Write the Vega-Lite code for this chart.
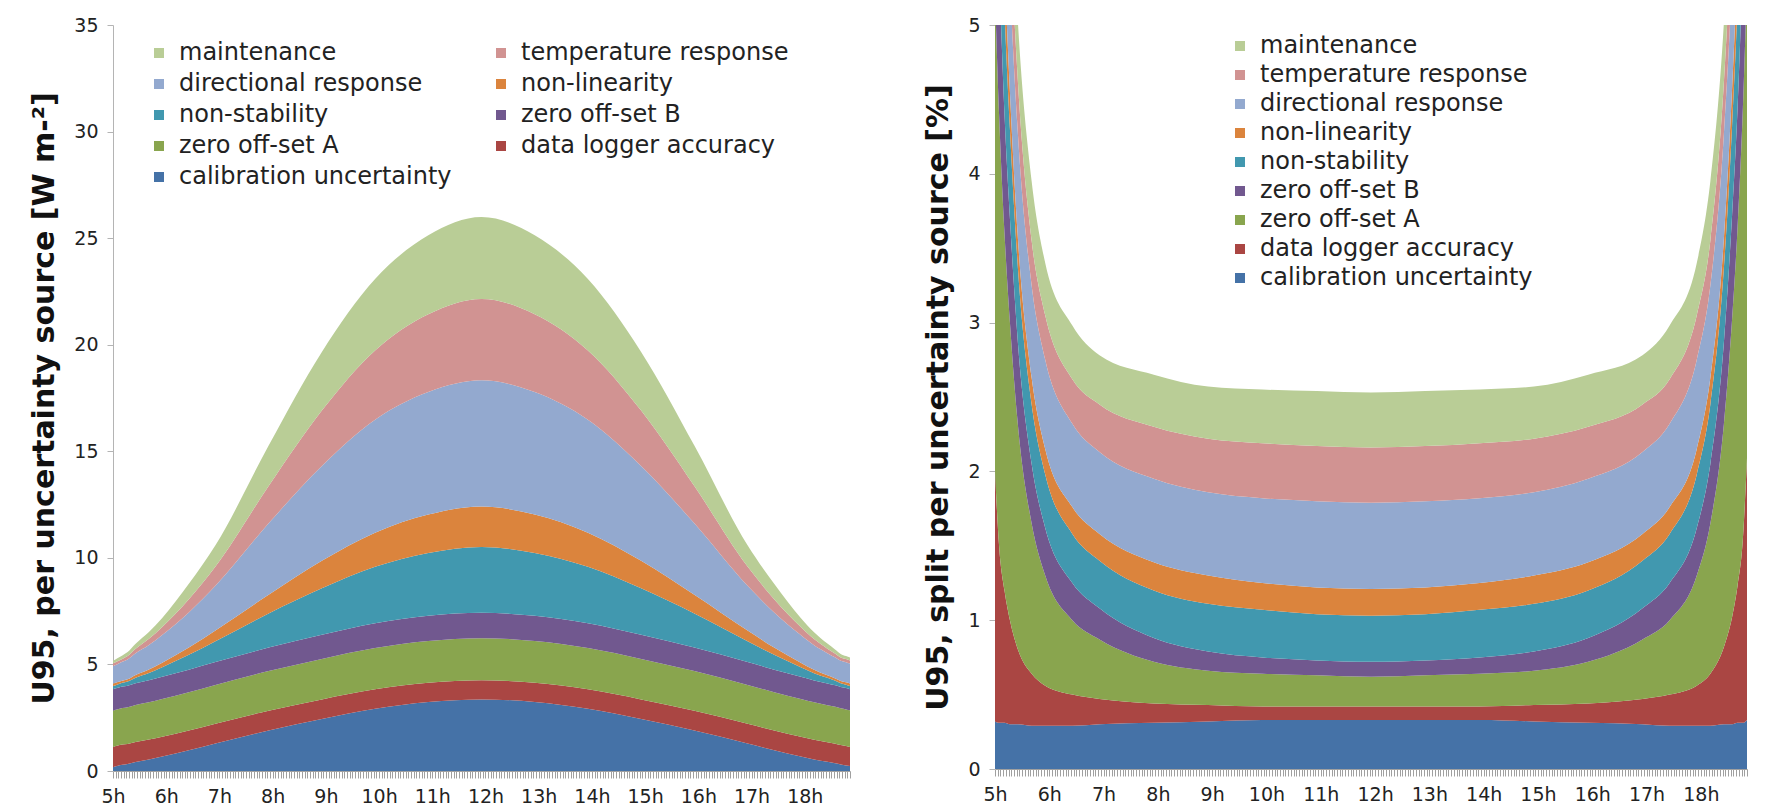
{
"$schema": "https://vega.github.io/schema/vega-lite/v6.json",
"background": "white",
"padding": {"left": 29, "top": 16, "right": 0, "bottom": 0},
"bounds": "flush",
"spacing": 145,
"config": {
  "font": "DejaVu Sans",
  "view": {"stroke": null},
  "axis": {"labelFont": "DejaVu Sans", "labelFontSize": 19, "labelColor": "#222222", "titleFont": "DejaVu Sans", "titleFontWeight": "bold", "titleFontSize": 30, "titleColor": "#111111", "grid": false, "domainColor": "#b4b4b4", "tickColor": "#b4b4b4"},
  "legend": {"labelFont": "DejaVu Sans", "labelFontSize": 24, "labelColor": "#222222", "symbolType": "square", "symbolSize": 100, "symbolStrokeWidth": 0, "labelOffset": 8, "padding": 0, "titlePadding": 0, "labelLimit": 500}
},
"datasets": {
"sources": [
{"source":"calibration uncertainty","rank":1},{"source":"data logger accuracy","rank":2},{"source":"zero off-set A","rank":3},{"source":"zero off-set B","rank":4},{"source":"non-stability","rank":5},{"source":"non-linearity","rank":6},{"source":"directional response","rank":7},{"source":"temperature response","rank":8},{"source":"maintenance","rank":9}
],
"wm2": [
{"hour":5,"source":"calibration uncertainty","value":0.18},{"hour":5,"source":"data logger accuracy","value":0.95},{"hour":5,"source":"zero off-set A","value":1.70},{"hour":5,"source":"zero off-set B","value":1.01},{"hour":5,"source":"non-stability","value":0.15},{"hour":5,"source":"non-linearity","value":0.11},{"hour":5,"source":"directional response","value":0.82},{"hour":5,"source":"temperature response","value":0.13},{"hour":5,"source":"maintenance","value":0.12},
{"hour":5.075,"source":"calibration uncertainty","value":0.23},{"hour":5.075,"source":"data logger accuracy","value":0.95},{"hour":5.075,"source":"zero off-set A","value":1.70},{"hour":5.075,"source":"zero off-set B","value":1.01},{"hour":5.075,"source":"non-stability","value":0.16},{"hour":5.075,"source":"non-linearity","value":0.11},{"hour":5.075,"source":"directional response","value":0.84},{"hour":5.075,"source":"temperature response","value":0.14},{"hour":5.075,"source":"maintenance","value":0.14},
{"hour":5.175,"source":"calibration uncertainty","value":0.29},{"hour":5.175,"source":"data logger accuracy","value":0.95},{"hour":5.175,"source":"zero off-set A","value":1.71},{"hour":5.175,"source":"zero off-set B","value":1.01},{"hour":5.175,"source":"non-stability","value":0.18},{"hour":5.175,"source":"non-linearity","value":0.10},{"hour":5.175,"source":"directional response","value":0.88},{"hour":5.175,"source":"temperature response","value":0.14},{"hour":5.175,"source":"maintenance","value":0.16},
{"hour":5.275,"source":"calibration uncertainty","value":0.33},{"hour":5.275,"source":"data logger accuracy","value":0.94},{"hour":5.275,"source":"zero off-set A","value":1.72},{"hour":5.275,"source":"zero off-set B","value":1.01},{"hour":5.275,"source":"non-stability","value":0.20},{"hour":5.275,"source":"non-linearity","value":0.10},{"hour":5.275,"source":"directional response","value":0.93},{"hour":5.275,"source":"temperature response","value":0.16},{"hour":5.275,"source":"maintenance","value":0.19},
{"hour":5.425,"source":"calibration uncertainty","value":0.42},{"hour":5.425,"source":"data logger accuracy","value":0.94},{"hour":5.425,"source":"zero off-set A","value":1.74},{"hour":5.425,"source":"zero off-set B","value":1.02},{"hour":5.425,"source":"non-stability","value":0.26},{"hour":5.425,"source":"non-linearity","value":0.12},{"hour":5.425,"source":"directional response","value":1.02},{"hour":5.425,"source":"temperature response","value":0.21},{"hour":5.425,"source":"maintenance","value":0.24},
{"hour":5.675,"source":"calibration uncertainty","value":0.54},{"hour":5.675,"source":"data logger accuracy","value":0.94},{"hour":5.675,"source":"zero off-set A","value":1.75},{"hour":5.675,"source":"zero off-set B","value":1.03},{"hour":5.675,"source":"non-stability","value":0.34},{"hour":5.675,"source":"non-linearity","value":0.16},{"hour":5.675,"source":"directional response","value":1.15},{"hour":5.675,"source":"temperature response","value":0.29},{"hour":5.675,"source":"maintenance","value":0.32},
{"hour":5.925,"source":"calibration uncertainty","value":0.68},{"hour":5.925,"source":"data logger accuracy","value":0.93},{"hour":5.925,"source":"zero off-set A","value":1.77},{"hour":5.925,"source":"zero off-set B","value":1.04},{"hour":5.925,"source":"non-stability","value":0.45},{"hour":5.925,"source":"non-linearity","value":0.21},{"hour":5.925,"source":"directional response","value":1.30},{"hour":5.925,"source":"temperature response","value":0.38},{"hour":5.925,"source":"maintenance","value":0.42},
{"hour":6.425,"source":"calibration uncertainty","value":0.97},{"hour":6.425,"source":"data logger accuracy","value":0.93},{"hour":6.425,"source":"zero off-set A","value":1.80},{"hour":6.425,"source":"zero off-set B","value":1.05},{"hour":6.425,"source":"non-stability","value":0.70},{"hour":6.425,"source":"non-linearity","value":0.34},{"hour":6.425,"source":"directional response","value":1.65},{"hour":6.425,"source":"temperature response","value":0.62},{"hour":6.425,"source":"maintenance","value":0.72},
{"hour":6.925,"source":"calibration uncertainty","value":1.29},{"hour":6.925,"source":"data logger accuracy","value":0.93},{"hour":6.925,"source":"zero off-set A","value":1.82},{"hour":6.925,"source":"zero off-set B","value":1.07},{"hour":6.925,"source":"non-stability","value":0.98},{"hour":6.925,"source":"non-linearity","value":0.50},{"hour":6.925,"source":"directional response","value":2.10},{"hour":6.925,"source":"temperature response","value":0.90},{"hour":6.925,"source":"maintenance","value":1.00},
{"hour":7.925,"source":"calibration uncertainty","value":1.90},{"hour":7.925,"source":"data logger accuracy","value":0.93},{"hour":7.925,"source":"zero off-set A","value":1.86},{"hour":7.925,"source":"zero off-set B","value":1.10},{"hour":7.925,"source":"non-stability","value":1.60},{"hour":7.925,"source":"non-linearity","value":0.88},{"hour":7.925,"source":"directional response","value":3.35},{"hour":7.925,"source":"temperature response","value":1.75},{"hour":7.925,"source":"maintenance","value":1.90},
{"hour":8.925,"source":"calibration uncertainty","value":2.44},{"hour":8.925,"source":"data logger accuracy","value":0.92},{"hour":8.925,"source":"zero off-set A","value":1.90},{"hour":8.925,"source":"zero off-set B","value":1.13},{"hour":8.925,"source":"non-stability","value":2.18},{"hour":8.925,"source":"non-linearity","value":1.29},{"hour":8.925,"source":"directional response","value":4.45},{"hour":8.925,"source":"temperature response","value":2.60},{"hour":8.925,"source":"maintenance","value":2.75},
{"hour":9.925,"source":"calibration uncertainty","value":2.92},{"hour":9.925,"source":"data logger accuracy","value":0.91},{"hour":9.925,"source":"zero off-set A","value":1.94},{"hour":9.925,"source":"zero off-set B","value":1.16},{"hour":9.925,"source":"non-stability","value":2.65},{"hour":9.925,"source":"non-linearity","value":1.60},{"hour":9.925,"source":"directional response","value":5.30},{"hour":9.925,"source":"temperature response","value":3.25},{"hour":9.925,"source":"maintenance","value":3.35},
{"hour":10.925,"source":"calibration uncertainty","value":3.24},{"hour":10.925,"source":"data logger accuracy","value":0.90},{"hour":10.925,"source":"zero off-set A","value":1.96},{"hour":10.925,"source":"zero off-set B","value":1.18},{"hour":10.925,"source":"non-stability","value":2.95},{"hour":10.925,"source":"non-linearity","value":1.80},{"hour":10.925,"source":"directional response","value":5.75},{"hour":10.925,"source":"temperature response","value":3.65},{"hour":10.925,"source":"maintenance","value":3.70},
{"hour":11.925,"source":"calibration uncertainty","value":3.36},{"hour":11.925,"source":"data logger accuracy","value":0.90},{"hour":11.925,"source":"zero off-set A","value":1.97},{"hour":11.925,"source":"zero off-set B","value":1.19},{"hour":11.925,"source":"non-stability","value":3.09},{"hour":11.925,"source":"non-linearity","value":1.90},{"hour":11.925,"source":"directional response","value":5.92},{"hour":11.925,"source":"temperature response","value":3.82},{"hour":11.925,"source":"maintenance","value":3.84},
{"hour":12.925,"source":"calibration uncertainty","value":3.24},{"hour":12.925,"source":"data logger accuracy","value":0.90},{"hour":12.925,"source":"zero off-set A","value":1.96},{"hour":12.925,"source":"zero off-set B","value":1.18},{"hour":12.925,"source":"non-stability","value":2.95},{"hour":12.925,"source":"non-linearity","value":1.80},{"hour":12.925,"source":"directional response","value":5.75},{"hour":12.925,"source":"temperature response","value":3.65},{"hour":12.925,"source":"maintenance","value":3.70},
{"hour":13.925,"source":"calibration uncertainty","value":2.92},{"hour":13.925,"source":"data logger accuracy","value":0.91},{"hour":13.925,"source":"zero off-set A","value":1.94},{"hour":13.925,"source":"zero off-set B","value":1.16},{"hour":13.925,"source":"non-stability","value":2.65},{"hour":13.925,"source":"non-linearity","value":1.60},{"hour":13.925,"source":"directional response","value":5.30},{"hour":13.925,"source":"temperature response","value":3.25},{"hour":13.925,"source":"maintenance","value":3.35},
{"hour":14.925,"source":"calibration uncertainty","value":2.44},{"hour":14.925,"source":"data logger accuracy","value":0.92},{"hour":14.925,"source":"zero off-set A","value":1.90},{"hour":14.925,"source":"zero off-set B","value":1.13},{"hour":14.925,"source":"non-stability","value":2.18},{"hour":14.925,"source":"non-linearity","value":1.29},{"hour":14.925,"source":"directional response","value":4.45},{"hour":14.925,"source":"temperature response","value":2.60},{"hour":14.925,"source":"maintenance","value":2.75},
{"hour":15.925,"source":"calibration uncertainty","value":1.90},{"hour":15.925,"source":"data logger accuracy","value":0.93},{"hour":15.925,"source":"zero off-set A","value":1.86},{"hour":15.925,"source":"zero off-set B","value":1.10},{"hour":15.925,"source":"non-stability","value":1.60},{"hour":15.925,"source":"non-linearity","value":0.88},{"hour":15.925,"source":"directional response","value":3.35},{"hour":15.925,"source":"temperature response","value":1.75},{"hour":15.925,"source":"maintenance","value":1.90},
{"hour":16.925,"source":"calibration uncertainty","value":1.29},{"hour":16.925,"source":"data logger accuracy","value":0.93},{"hour":16.925,"source":"zero off-set A","value":1.82},{"hour":16.925,"source":"zero off-set B","value":1.07},{"hour":16.925,"source":"non-stability","value":0.98},{"hour":16.925,"source":"non-linearity","value":0.50},{"hour":16.925,"source":"directional response","value":2.10},{"hour":16.925,"source":"temperature response","value":0.90},{"hour":16.925,"source":"maintenance","value":1.00},
{"hour":17.425,"source":"calibration uncertainty","value":0.97},{"hour":17.425,"source":"data logger accuracy","value":0.93},{"hour":17.425,"source":"zero off-set A","value":1.80},{"hour":17.425,"source":"zero off-set B","value":1.05},{"hour":17.425,"source":"non-stability","value":0.70},{"hour":17.425,"source":"non-linearity","value":0.34},{"hour":17.425,"source":"directional response","value":1.65},{"hour":17.425,"source":"temperature response","value":0.62},{"hour":17.425,"source":"maintenance","value":0.72},
{"hour":17.925,"source":"calibration uncertainty","value":0.68},{"hour":17.925,"source":"data logger accuracy","value":0.93},{"hour":17.925,"source":"zero off-set A","value":1.77},{"hour":17.925,"source":"zero off-set B","value":1.04},{"hour":17.925,"source":"non-stability","value":0.45},{"hour":17.925,"source":"non-linearity","value":0.21},{"hour":17.925,"source":"directional response","value":1.30},{"hour":17.925,"source":"temperature response","value":0.38},{"hour":17.925,"source":"maintenance","value":0.42},
{"hour":18.175,"source":"calibration uncertainty","value":0.54},{"hour":18.175,"source":"data logger accuracy","value":0.93},{"hour":18.175,"source":"zero off-set A","value":1.75},{"hour":18.175,"source":"zero off-set B","value":1.03},{"hour":18.175,"source":"non-stability","value":0.34},{"hour":18.175,"source":"non-linearity","value":0.16},{"hour":18.175,"source":"directional response","value":1.15},{"hour":18.175,"source":"temperature response","value":0.29},{"hour":18.175,"source":"maintenance","value":0.32},
{"hour":18.425,"source":"calibration uncertainty","value":0.43},{"hour":18.425,"source":"data logger accuracy","value":0.92},{"hour":18.425,"source":"zero off-set A","value":1.74},{"hour":18.425,"source":"zero off-set B","value":1.02},{"hour":18.425,"source":"non-stability","value":0.26},{"hour":18.425,"source":"non-linearity","value":0.12},{"hour":18.425,"source":"directional response","value":1.04},{"hour":18.425,"source":"temperature response","value":0.21},{"hour":18.425,"source":"maintenance","value":0.24},
{"hour":18.575,"source":"calibration uncertainty","value":0.36},{"hour":18.575,"source":"data logger accuracy","value":0.92},{"hour":18.575,"source":"zero off-set A","value":1.73},{"hour":18.575,"source":"zero off-set B","value":1.01},{"hour":18.575,"source":"non-stability","value":0.21},{"hour":18.575,"source":"non-linearity","value":0.11},{"hour":18.575,"source":"directional response","value":0.98},{"hour":18.575,"source":"temperature response","value":0.18},{"hour":18.575,"source":"maintenance","value":0.19},
{"hour":18.675,"source":"calibration uncertainty","value":0.31},{"hour":18.675,"source":"data logger accuracy","value":0.91},{"hour":18.675,"source":"zero off-set A","value":1.72},{"hour":18.675,"source":"zero off-set B","value":1.00},{"hour":18.675,"source":"non-stability","value":0.18},{"hour":18.675,"source":"non-linearity","value":0.10},{"hour":18.675,"source":"directional response","value":0.95},{"hour":18.675,"source":"temperature response","value":0.16},{"hour":18.675,"source":"maintenance","value":0.16},
{"hour":18.775,"source":"calibration uncertainty","value":0.26},{"hour":18.775,"source":"data logger accuracy","value":0.91},{"hour":18.775,"source":"zero off-set A","value":1.72},{"hour":18.775,"source":"zero off-set B","value":1.00},{"hour":18.775,"source":"non-stability","value":0.16},{"hour":18.775,"source":"non-linearity","value":0.11},{"hour":18.775,"source":"directional response","value":0.94},{"hour":18.775,"source":"temperature response","value":0.15},{"hour":18.775,"source":"maintenance","value":0.14},
{"hour":18.85,"source":"calibration uncertainty","value":0.23},{"hour":18.85,"source":"data logger accuracy","value":0.90},{"hour":18.85,"source":"zero off-set A","value":1.72},{"hour":18.85,"source":"zero off-set B","value":0.99},{"hour":18.85,"source":"non-stability","value":0.15},{"hour":18.85,"source":"non-linearity","value":0.11},{"hour":18.85,"source":"directional response","value":0.94},{"hour":18.85,"source":"temperature response","value":0.15},{"hour":18.85,"source":"maintenance","value":0.13}
],
"pct": [
{"hour":5,"source":"calibration uncertainty","value":0.32},{"hour":5,"source":"data logger accuracy","value":1.68},{"hour":5,"source":"zero off-set A","value":3.20},{"hour":5,"source":"zero off-set B","value":1.10},{"hour":5,"source":"non-stability","value":0.90},{"hour":5,"source":"non-linearity","value":0.40},{"hour":5,"source":"directional response","value":1.20},{"hour":5,"source":"temperature response","value":0.60},{"hour":5,"source":"maintenance","value":0.60},
{"hour":5.075,"source":"calibration uncertainty","value":0.31},{"hour":5.075,"source":"data logger accuracy","value":1.19},{"hour":5.075,"source":"zero off-set A","value":2.90},{"hour":5.075,"source":"zero off-set B","value":1.00},{"hour":5.075,"source":"non-stability","value":0.80},{"hour":5.075,"source":"non-linearity","value":0.30},{"hour":5.075,"source":"directional response","value":1.10},{"hour":5.075,"source":"temperature response","value":0.50},{"hour":5.075,"source":"maintenance","value":0.60},
{"hour":5.175,"source":"calibration uncertainty","value":0.31},{"hour":5.175,"source":"data logger accuracy","value":0.89},{"hour":5.175,"source":"zero off-set A","value":2.40},{"hour":5.175,"source":"zero off-set B","value":0.80},{"hour":5.175,"source":"non-stability","value":0.70},{"hour":5.175,"source":"non-linearity","value":0.30},{"hour":5.175,"source":"directional response","value":0.90},{"hour":5.175,"source":"temperature response","value":0.40},{"hour":5.175,"source":"maintenance","value":0.50},
{"hour":5.275,"source":"calibration uncertainty","value":0.30},{"hour":5.275,"source":"data logger accuracy","value":0.70},{"hour":5.275,"source":"zero off-set A","value":2.00},{"hour":5.275,"source":"zero off-set B","value":0.70},{"hour":5.275,"source":"non-stability","value":0.60},{"hour":5.275,"source":"non-linearity","value":0.25},{"hour":5.275,"source":"directional response","value":0.75},{"hour":5.275,"source":"temperature response","value":0.40},{"hour":5.275,"source":"maintenance","value":0.40},
{"hour":5.425,"source":"calibration uncertainty","value":0.30},{"hour":5.425,"source":"data logger accuracy","value":0.50},{"hour":5.425,"source":"zero off-set A","value":1.50},{"hour":5.425,"source":"zero off-set B","value":0.55},{"hour":5.425,"source":"non-stability","value":0.50},{"hour":5.425,"source":"non-linearity","value":0.20},{"hour":5.425,"source":"directional response","value":0.70},{"hour":5.425,"source":"temperature response","value":0.35},{"hour":5.425,"source":"maintenance","value":0.40},
{"hour":5.675,"source":"calibration uncertainty","value":0.29},{"hour":5.675,"source":"data logger accuracy","value":0.35},{"hour":5.675,"source":"zero off-set A","value":1.01},{"hour":5.675,"source":"zero off-set B","value":0.40},{"hour":5.675,"source":"non-stability","value":0.40},{"hour":5.675,"source":"non-linearity","value":0.18},{"hour":5.675,"source":"directional response","value":0.62},{"hour":5.675,"source":"temperature response","value":0.30},{"hour":5.675,"source":"maintenance","value":0.40},
{"hour":5.925,"source":"calibration uncertainty","value":0.29},{"hour":5.925,"source":"data logger accuracy","value":0.27},{"hour":5.925,"source":"zero off-set A","value":0.74},{"hour":5.925,"source":"zero off-set B","value":0.32},{"hour":5.925,"source":"non-stability","value":0.36},{"hour":5.925,"source":"non-linearity","value":0.17},{"hour":5.925,"source":"directional response","value":0.60},{"hour":5.925,"source":"temperature response","value":0.30},{"hour":5.925,"source":"maintenance","value":0.35},
{"hour":6.425,"source":"calibration uncertainty","value":0.29},{"hour":6.425,"source":"data logger accuracy","value":0.21},{"hour":6.425,"source":"zero off-set A","value":0.50},{"hour":6.425,"source":"zero off-set B","value":0.25},{"hour":6.425,"source":"non-stability","value":0.33},{"hour":6.425,"source":"non-linearity","value":0.18},{"hour":6.425,"source":"directional response","value":0.56},{"hour":6.425,"source":"temperature response","value":0.30},{"hour":6.425,"source":"maintenance","value":0.36},
{"hour":6.925,"source":"calibration uncertainty","value":0.30},{"hour":6.925,"source":"data logger accuracy","value":0.17},{"hour":6.925,"source":"zero off-set A","value":0.40},{"hour":6.925,"source":"zero off-set B","value":0.21},{"hour":6.925,"source":"non-stability","value":0.32},{"hour":6.925,"source":"non-linearity","value":0.18},{"hour":6.925,"source":"directional response","value":0.55},{"hour":6.925,"source":"temperature response","value":0.32},{"hour":6.925,"source":"maintenance","value":0.33},
{"hour":7.925,"source":"calibration uncertainty","value":0.31},{"hour":7.925,"source":"data logger accuracy","value":0.13},{"hour":7.925,"source":"zero off-set A","value":0.28},{"hour":7.925,"source":"zero off-set B","value":0.16},{"hour":7.925,"source":"non-stability","value":0.32},{"hour":7.925,"source":"non-linearity","value":0.19},{"hour":7.925,"source":"directional response","value":0.56},{"hour":7.925,"source":"temperature response","value":0.35},{"hour":7.925,"source":"maintenance","value":0.35},
{"hour":8.925,"source":"calibration uncertainty","value":0.32},{"hour":8.925,"source":"data logger accuracy","value":0.11},{"hour":8.925,"source":"zero off-set A","value":0.23},{"hour":8.925,"source":"zero off-set B","value":0.13},{"hour":8.925,"source":"non-stability","value":0.32},{"hour":8.925,"source":"non-linearity","value":0.19},{"hour":8.925,"source":"directional response","value":0.56},{"hour":8.925,"source":"temperature response","value":0.36},{"hour":8.925,"source":"maintenance","value":0.35},
{"hour":9.925,"source":"calibration uncertainty","value":0.33},{"hour":9.925,"source":"data logger accuracy","value":0.09},{"hour":9.925,"source":"zero off-set A","value":0.22},{"hour":9.925,"source":"zero off-set B","value":0.11},{"hour":9.925,"source":"non-stability","value":0.32},{"hour":9.925,"source":"non-linearity","value":0.18},{"hour":9.925,"source":"directional response","value":0.57},{"hour":9.925,"source":"temperature response","value":0.37},{"hour":9.925,"source":"maintenance","value":0.36},
{"hour":10.925,"source":"calibration uncertainty","value":0.33},{"hour":10.925,"source":"data logger accuracy","value":0.09},{"hour":10.925,"source":"zero off-set A","value":0.21},{"hour":10.925,"source":"zero off-set B","value":0.10},{"hour":10.925,"source":"non-stability","value":0.31},{"hour":10.925,"source":"non-linearity","value":0.18},{"hour":10.925,"source":"directional response","value":0.58},{"hour":10.925,"source":"temperature response","value":0.37},{"hour":10.925,"source":"maintenance","value":0.37},
{"hour":11.925,"source":"calibration uncertainty","value":0.33},{"hour":11.925,"source":"data logger accuracy","value":0.09},{"hour":11.925,"source":"zero off-set A","value":0.20},{"hour":11.925,"source":"zero off-set B","value":0.10},{"hour":11.925,"source":"non-stability","value":0.31},{"hour":11.925,"source":"non-linearity","value":0.18},{"hour":11.925,"source":"directional response","value":0.58},{"hour":11.925,"source":"temperature response","value":0.37},{"hour":11.925,"source":"maintenance","value":0.37},
{"hour":12.925,"source":"calibration uncertainty","value":0.33},{"hour":12.925,"source":"data logger accuracy","value":0.09},{"hour":12.925,"source":"zero off-set A","value":0.21},{"hour":12.925,"source":"zero off-set B","value":0.10},{"hour":12.925,"source":"non-stability","value":0.31},{"hour":12.925,"source":"non-linearity","value":0.18},{"hour":12.925,"source":"directional response","value":0.58},{"hour":12.925,"source":"temperature response","value":0.37},{"hour":12.925,"source":"maintenance","value":0.37},
{"hour":13.925,"source":"calibration uncertainty","value":0.33},{"hour":13.925,"source":"data logger accuracy","value":0.09},{"hour":13.925,"source":"zero off-set A","value":0.22},{"hour":13.925,"source":"zero off-set B","value":0.11},{"hour":13.925,"source":"non-stability","value":0.32},{"hour":13.925,"source":"non-linearity","value":0.18},{"hour":13.925,"source":"directional response","value":0.57},{"hour":13.925,"source":"temperature response","value":0.37},{"hour":13.925,"source":"maintenance","value":0.36},
{"hour":14.925,"source":"calibration uncertainty","value":0.32},{"hour":14.925,"source":"data logger accuracy","value":0.11},{"hour":14.925,"source":"zero off-set A","value":0.23},{"hour":14.925,"source":"zero off-set B","value":0.13},{"hour":14.925,"source":"non-stability","value":0.32},{"hour":14.925,"source":"non-linearity","value":0.19},{"hour":14.925,"source":"directional response","value":0.56},{"hour":14.925,"source":"temperature response","value":0.36},{"hour":14.925,"source":"maintenance","value":0.35},
{"hour":15.925,"source":"calibration uncertainty","value":0.31},{"hour":15.925,"source":"data logger accuracy","value":0.13},{"hour":15.925,"source":"zero off-set A","value":0.28},{"hour":15.925,"source":"zero off-set B","value":0.16},{"hour":15.925,"source":"non-stability","value":0.32},{"hour":15.925,"source":"non-linearity","value":0.19},{"hour":15.925,"source":"directional response","value":0.56},{"hour":15.925,"source":"temperature response","value":0.35},{"hour":15.925,"source":"maintenance","value":0.35},
{"hour":16.925,"source":"calibration uncertainty","value":0.30},{"hour":16.925,"source":"data logger accuracy","value":0.17},{"hour":16.925,"source":"zero off-set A","value":0.40},{"hour":16.925,"source":"zero off-set B","value":0.21},{"hour":16.925,"source":"non-stability","value":0.32},{"hour":16.925,"source":"non-linearity","value":0.18},{"hour":16.925,"source":"directional response","value":0.55},{"hour":16.925,"source":"temperature response","value":0.32},{"hour":16.925,"source":"maintenance","value":0.33},
{"hour":17.425,"source":"calibration uncertainty","value":0.29},{"hour":17.425,"source":"data logger accuracy","value":0.21},{"hour":17.425,"source":"zero off-set A","value":0.50},{"hour":17.425,"source":"zero off-set B","value":0.25},{"hour":17.425,"source":"non-stability","value":0.33},{"hour":17.425,"source":"non-linearity","value":0.18},{"hour":17.425,"source":"directional response","value":0.56},{"hour":17.425,"source":"temperature response","value":0.30},{"hour":17.425,"source":"maintenance","value":0.36},
{"hour":17.925,"source":"calibration uncertainty","value":0.29},{"hour":17.925,"source":"data logger accuracy","value":0.27},{"hour":17.925,"source":"zero off-set A","value":0.74},{"hour":17.925,"source":"zero off-set B","value":0.32},{"hour":17.925,"source":"non-stability","value":0.36},{"hour":17.925,"source":"non-linearity","value":0.17},{"hour":17.925,"source":"directional response","value":0.60},{"hour":17.925,"source":"temperature response","value":0.30},{"hour":17.925,"source":"maintenance","value":0.35},
{"hour":18.175,"source":"calibration uncertainty","value":0.29},{"hour":18.175,"source":"data logger accuracy","value":0.35},{"hour":18.175,"source":"zero off-set A","value":1.01},{"hour":18.175,"source":"zero off-set B","value":0.40},{"hour":18.175,"source":"non-stability","value":0.40},{"hour":18.175,"source":"non-linearity","value":0.18},{"hour":18.175,"source":"directional response","value":0.62},{"hour":18.175,"source":"temperature response","value":0.30},{"hour":18.175,"source":"maintenance","value":0.40},
{"hour":18.425,"source":"calibration uncertainty","value":0.30},{"hour":18.425,"source":"data logger accuracy","value":0.52},{"hour":18.425,"source":"zero off-set A","value":1.50},{"hour":18.425,"source":"zero off-set B","value":0.55},{"hour":18.425,"source":"non-stability","value":0.50},{"hour":18.425,"source":"non-linearity","value":0.20},{"hour":18.425,"source":"directional response","value":0.70},{"hour":18.425,"source":"temperature response","value":0.35},{"hour":18.425,"source":"maintenance","value":0.40},
{"hour":18.575,"source":"calibration uncertainty","value":0.30},{"hour":18.575,"source":"data logger accuracy","value":0.72},{"hour":18.575,"source":"zero off-set A","value":2.00},{"hour":18.575,"source":"zero off-set B","value":0.70},{"hour":18.575,"source":"non-stability","value":0.60},{"hour":18.575,"source":"non-linearity","value":0.25},{"hour":18.575,"source":"directional response","value":0.75},{"hour":18.575,"source":"temperature response","value":0.40},{"hour":18.575,"source":"maintenance","value":0.40},
{"hour":18.675,"source":"calibration uncertainty","value":0.31},{"hour":18.675,"source":"data logger accuracy","value":0.92},{"hour":18.675,"source":"zero off-set A","value":2.40},{"hour":18.675,"source":"zero off-set B","value":0.80},{"hour":18.675,"source":"non-stability","value":0.70},{"hour":18.675,"source":"non-linearity","value":0.30},{"hour":18.675,"source":"directional response","value":0.90},{"hour":18.675,"source":"temperature response","value":0.40},{"hour":18.675,"source":"maintenance","value":0.50},
{"hour":18.775,"source":"calibration uncertainty","value":0.31},{"hour":18.775,"source":"data logger accuracy","value":1.24},{"hour":18.775,"source":"zero off-set A","value":2.90},{"hour":18.775,"source":"zero off-set B","value":1.00},{"hour":18.775,"source":"non-stability","value":0.80},{"hour":18.775,"source":"non-linearity","value":0.30},{"hour":18.775,"source":"directional response","value":1.10},{"hour":18.775,"source":"temperature response","value":0.50},{"hour":18.775,"source":"maintenance","value":0.60},
{"hour":18.85,"source":"calibration uncertainty","value":0.33},{"hour":18.85,"source":"data logger accuracy","value":1.76},{"hour":18.85,"source":"zero off-set A","value":3.20},{"hour":18.85,"source":"zero off-set B","value":1.10},{"hour":18.85,"source":"non-stability","value":0.90},{"hour":18.85,"source":"non-linearity","value":0.40},{"hour":18.85,"source":"directional response","value":1.20},{"hour":18.85,"source":"temperature response","value":0.60},{"hour":18.85,"source":"maintenance","value":0.60}
]
},
"hconcat": [
{
  "width": 737, "height": 746,
  "data": {"name": "wm2"},
  "transform": [{"lookup": "source", "from": {"data": {"name": "sources"}, "key": "source", "fields": ["rank"]}}],
  "mark": {"type": "area", "interpolate": "monotone"},
  "encoding": {
    "x": {"field": "hour", "type": "quantitative", "scale": {"domain": [5, 18.85], "nice": false, "zero": false},
      "axis": {"title": null, "tickCount": 250, "labelExpr": "datum.value % 1 === 0 ? datum.value + 'h' : ''", "labelOverlap": false, "labelFlush": false, "labelBound": false, "tickSize": 7, "tickColor": "#a0a0a0", "domainColor": "#a0a0a0", "labelPadding": 9}},
    "y": {"field": "value", "type": "quantitative", "stack": "zero", "scale": {"domain": [0, 35], "nice": false},
      "axis": {"title": "U95, per uncertainty source [W m-²]", "values": [0, 5, 10, 15, 20, 25, 30, 35], "tickSize": 6, "labelPadding": 9, "titlePadding": 14}},
    "color": {"field": "source", "type": "nominal",
      "scale": {"domain": ["maintenance", "temperature response", "directional response", "non-linearity", "non-stability", "zero off-set B", "zero off-set A", "data logger accuracy", "calibration uncertainty"],
                "range": ["#b9cd96", "#d19392", "#93a9cf", "#db843d", "#4198af", "#71588f", "#89a54e", "#aa4643", "#4572a7"]},
      "legend": {"title": null, "orient": "none", "legendX": 34, "legendY": 16, "direction": "horizontal", "columns": 2, "columnPadding": 37, "rowPadding": 7}},
    "order": {"field": "rank", "type": "quantitative", "sort": "ascending"}
  }
},
{
  "width": 752, "height": 744,
  "data": {"name": "pct"},
  "transform": [{"lookup": "source", "from": {"data": {"name": "sources"}, "key": "source", "fields": ["rank"]}}],
  "mark": {"type": "area", "interpolate": "monotone", "clip": true},
  "encoding": {
    "x": {"field": "hour", "type": "quantitative", "scale": {"domain": [5, 18.85], "nice": false, "zero": false},
      "axis": {"title": null, "tickCount": 250, "labelExpr": "datum.value % 1 === 0 ? datum.value + 'h' : ''", "labelOverlap": false, "labelFlush": false, "labelBound": false, "tickSize": 7, "tickColor": "#a0a0a0", "domainColor": "#a0a0a0", "labelPadding": 9}},
    "y": {"field": "value", "type": "quantitative", "stack": "zero", "scale": {"domain": [0, 5], "nice": false},
      "axis": {"title": "U95, split per uncertainty source [%]", "values": [0, 1, 2, 3, 4, 5], "tickSize": 6, "labelPadding": 9, "titlePadding": 14}},
    "color": {"field": "source", "type": "nominal",
      "scale": {"domain": ["maintenance", "temperature response", "directional response", "non-linearity", "non-stability", "zero off-set B", "zero off-set A", "data logger accuracy", "calibration uncertainty"],
                "range": ["#b9cd96", "#d19392", "#93a9cf", "#db843d", "#4198af", "#71588f", "#89a54e", "#aa4643", "#4572a7"]},
      "legend": {"title": null, "orient": "none", "legendX": 233, "legendY": 9, "columns": 1, "rowPadding": 5}},
    "order": {"field": "rank", "type": "quantitative", "sort": "ascending"}
  }
}
],
"resolve": {"scale": {"color": "independent", "x": "independent", "y": "independent"}, "legend": {"color": "independent"}}
}
